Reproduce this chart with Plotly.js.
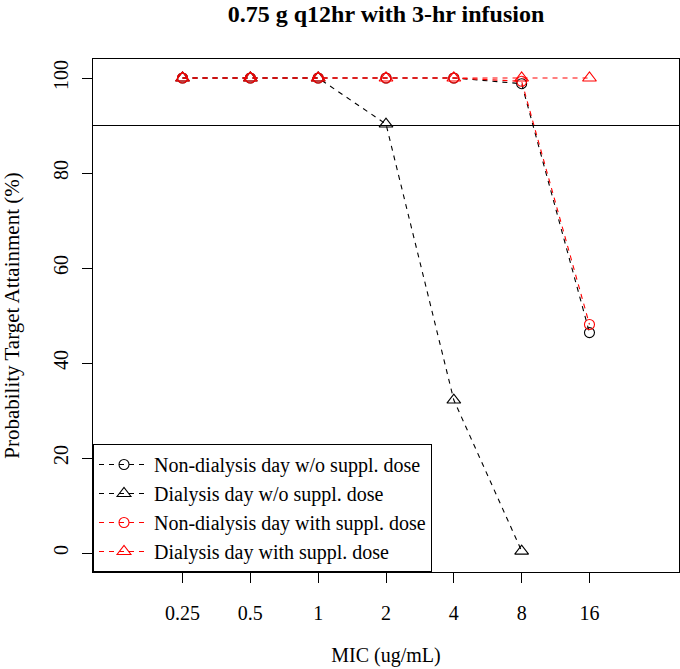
<!DOCTYPE html>
<html>
<head>
<meta charset="utf-8">
<script src="https://cdn.plot.ly/plotly-3.0.1.min.js"></script>
<style>html,body{margin:0;padding:0;background:#fff;}#chart{width:680px;height:669px;}</style>
</head>
<body>
<div id="chart"></div>
<script>
// Data
const micLabels = ["0.25", "0.5", "1", "2", "4", "8", "16"];
const micIndex = [1, 2, 3, 4, 5, 6, 7];
const nonDialysisNoSuppl = [100, 100, 100, 100, 100, 98.8, 46.4];
const dialysisNoSuppl = [100, 100, 100, 90.3, 32.2, 0.4, null];
const nonDialysisWithSuppl = [100, 100, 100, 100, 100, 99.3, 48.1];
const dialysisWithSuppl = [100, 100, 100, 100, 100, 100, 100];
const seriesNames = [
  "Non-dialysis day w/o suppl. dose",
  "Dialysis day w/o suppl. dose",
  "Non-dialysis day with suppl. dose",
  "Dialysis day with suppl. dose"
];
const targetLine = 90;

const serif = "Liberation Serif, Times New Roman, serif";

function tr(y, name, color, symbol, size) {
  return {
    x: micIndex, y: y, name: name, type: "scatter", mode: "lines+markers",
    line: {color: color, width: 1.1, dash: "5px,5px"},
    marker: {symbol: symbol, size: size, color: color, line: {color: color, width: 1.1}},
    connectgaps: false
  };
}

const data = [
  tr(nonDialysisNoSuppl, seriesNames[0], "black", "circle-open", 10),
  tr(dialysisNoSuppl, seriesNames[1], "black", "triangle-up-open", 12),
  tr(nonDialysisWithSuppl, seriesNames[2], "#ff0000", "circle-open", 10),
  tr(dialysisWithSuppl, seriesNames[3], "#ff0000", "triangle-up-open", 12)
];

const layout = {
  width: 680, height: 669,
  margin: {l: 93, r: 1, t: 59, b: 97},
  paper_bgcolor: "white", plot_bgcolor: "white",
  font: {family: serif, size: 20, color: "black"},
  title: {text: "<b>0.75 g q12hr with 3-hr infusion</b>", font: {family: serif, size: 24, color: "black"},
          xref: "paper", x: 0.5, xanchor: "center", yref: "container", y: 0.992, yanchor: "top"},
  xaxis: {
    range: [-0.32, 8.32], tickvals: micIndex, ticktext: micLabels,
    showgrid: false, zeroline: false, showline: true, mirror: true, linecolor: "black", linewidth: 1,
    ticks: "outside", ticklen: 10, tickcolor: "black", tickwidth: 1, ticklabelstandoff: 13,
    tickfont: {family: serif, size: 20},
    title: {text: "MIC (ug/mL)", font: {family: serif, size: 20}, standoff: 24}
  },
  yaxis: {
    range: [-4, 104], tickvals: [0, 20, 40, 60, 80, 100],
    showgrid: false, zeroline: false, showline: true, mirror: true, linecolor: "black", linewidth: 1,
    ticks: "outside", ticklen: 10, tickcolor: "black", tickwidth: 1, tickangle: -90, ticklabelstandoff: 6,
    tickfont: {family: serif, size: 20},
    title: {text: "Probability Target Attainment (%)", font: {family: serif, size: 21}, standoff: 24}
  },
  shapes: [{type: "line", xref: "paper", x0: 0, x1: 1, yref: "y", y0: targetLine, y1: targetLine, line: {color: "black", width: 1}}],
  legend: {
    x: 0, y: 0, xanchor: "left", yanchor: "bottom",
    bgcolor: "white", bordercolor: "black", borderwidth: 1,
    font: {family: serif, size: 20}, tracegroupgap: 0, itemwidth: 50
  },
  showlegend: true
};

Plotly.newPlot("chart", data, layout, {displayModeBar: false, staticPlot: true});
</script>
</body>
</html>
